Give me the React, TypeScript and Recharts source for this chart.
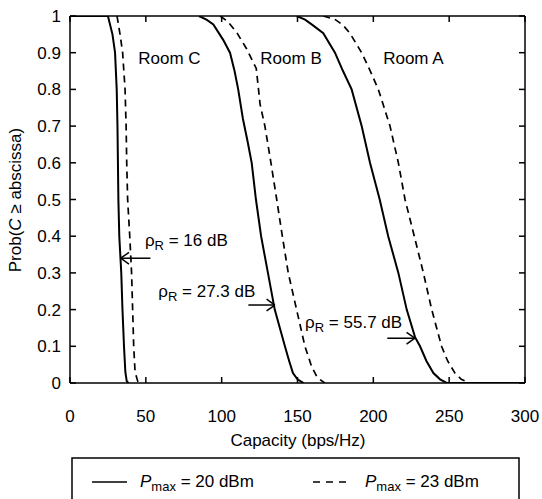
import React from 'react';
import { LineChart, Line, XAxis, YAxis, ReferenceLine, ReferenceDot } from 'recharts';

type Pt = { x: number; p: number };

const roomCSolid: Pt[] = [
  { x: 0, p: 1 }, { x: 25, p: 1 }, { x: 28, p: 0.95 }, { x: 29.7, p: 0.9 }, { x: 30.8, p: 0.8 },
  { x: 31.3, p: 0.7 }, { x: 31.6, p: 0.6 }, { x: 31.9, p: 0.5 }, { x: 32.5, p: 0.4 },
  { x: 33.8, p: 0.3 }, { x: 34.6, p: 0.2 }, { x: 35.6, p: 0.1 }, { x: 36.5, p: 0.03 },
  { x: 37.4, p: 0.005 }, { x: 38.5, p: 0 },
];
const roomCDashed: Pt[] = [
  { x: 31, p: 1 }, { x: 33, p: 0.95 }, { x: 34.7, p: 0.9 }, { x: 36.3, p: 0.8 }, { x: 37, p: 0.7 },
  { x: 37.4, p: 0.6 }, { x: 38, p: 0.5 }, { x: 39.4, p: 0.4 }, { x: 40.6, p: 0.3 },
  { x: 41.3, p: 0.2 }, { x: 42, p: 0.1 }, { x: 42.9, p: 0.03 }, { x: 45, p: 0 },
];
const roomBSolid: Pt[] = [
  { x: 85, p: 1 }, { x: 90, p: 0.99 }, { x: 94.5, p: 0.977 }, { x: 101, p: 0.935 },
  { x: 105.5, p: 0.9 }, { x: 108.5, p: 0.85 }, { x: 110.9, p: 0.8 }, { x: 114, p: 0.72 },
  { x: 117, p: 0.66 }, { x: 119.8, p: 0.6 }, { x: 122.6, p: 0.5 }, { x: 126, p: 0.4 },
  { x: 130.5, p: 0.3 }, { x: 135, p: 0.2 }, { x: 141.7, p: 0.1 }, { x: 144.5, p: 0.06 },
  { x: 147, p: 0.027 }, { x: 150, p: 0.01 }, { x: 154, p: 0 },
];
const roomBDashed: Pt[] = [
  { x: 99, p: 1 }, { x: 104, p: 0.985 }, { x: 110, p: 0.955 }, { x: 116.5, p: 0.91 },
  { x: 122.8, p: 0.857 }, { x: 124.3, p: 0.8 }, { x: 125.3, p: 0.76 }, { x: 128.5, p: 0.7 },
  { x: 132.5, p: 0.6 }, { x: 136.3, p: 0.5 }, { x: 140, p: 0.4 }, { x: 143.9, p: 0.3 },
  { x: 149.4, p: 0.2 }, { x: 154.9, p: 0.1 }, { x: 159.3, p: 0.045 }, { x: 163, p: 0.015 },
  { x: 168, p: 0 },
];
const roomASolid: Pt[] = [
  { x: 149.4, p: 1 }, { x: 155, p: 0.99 }, { x: 160, p: 0.975 }, { x: 167, p: 0.953 },
  { x: 174.7, p: 0.9 }, { x: 180, p: 0.85 }, { x: 185.7, p: 0.8 }, { x: 192.3, p: 0.7 },
  { x: 197.8, p: 0.6 }, { x: 204.2, p: 0.5 }, { x: 209.8, p: 0.4 }, { x: 216.5, p: 0.3 },
  { x: 222, p: 0.2 }, { x: 227.5, p: 0.125 }, { x: 230.8, p: 0.1 }, { x: 235, p: 0.06 },
  { x: 239.6, p: 0.027 }, { x: 244, p: 0.01 }, { x: 248.4, p: 0 }, { x: 300, p: 0 },
];
const roomADashed: Pt[] = [
  { x: 167, p: 1 }, { x: 175, p: 0.99 }, { x: 180, p: 0.975 }, { x: 184.6, p: 0.953 },
  { x: 192.3, p: 0.9 }, { x: 198, p: 0.85 }, { x: 203.3, p: 0.8 }, { x: 211, p: 0.7 },
  { x: 216.5, p: 0.6 }, { x: 220.9, p: 0.5 }, { x: 227, p: 0.4 }, { x: 233, p: 0.3 },
  { x: 238.5, p: 0.2 }, { x: 245, p: 0.1 }, { x: 249, p: 0.06 }, { x: 253.8, p: 0.027 },
  { x: 258, p: 0.01 }, { x: 263.7, p: 0 },
];

const xTicks = [0, 50, 100, 150, 200, 250, 300];
const yTicks = [0, 0.1, 0.2, 0.3, 0.4, 0.5, 0.6, 0.7, 0.8, 0.9, 1];
const yTickLabels = ['0', '0.1', '0.2', '0.3', '0.4', '0.5', '0.6', '0.7', '0.8', '0.9', '1'];

const roomLabels = [
  { text: 'Room C', x: 45, y: 0.885 },
  { text: 'Room B', x: 125.5, y: 0.885 },
  { text: 'Room A', x: 206.5, y: 0.885 },
];

const arrows = [
  { value: '16 dB', tipX: 33.4, tipY: 0.34, tailX: 53, labelX: 49.4, labelY: 0.39 },
  { value: '27.3 dB', tipX: 135.1, tipY: 0.2125, tailX: 117.6, labelX: 58.2, labelY: 0.25 },
  { value: '55.7 dB', tipX: 227.4, tipY: 0.122, tailX: 209.2, labelX: 155, labelY: 0.165 },
];

const FONT = '"Liberation Sans", Arial, Helvetica, sans-serif';
const FS = 17;
const HEAD_DX = 5.5;
const HEAD_DY = 0.016;

const makeTextLabel = (render: (x: number, y: number) => React.ReactNode) => (props: any) => {
  const vb = props.viewBox || {};
  const cx = (vb.x ?? 0) + (vb.width ?? 0) / 2;
  const cy = (vb.y ?? 0) + (vb.height ?? 0) / 2;
  return <g>{render(cx, cy)}</g>;
};

const NoTick = () => <g />;

export default function App() {
  return (
    <div style={{ position: 'fixed', left: 0, top: 0, width: 542, height: 499, overflow: 'hidden', background: '#fff', fontFamily: FONT }}>
      <LineChart width={542} height={499} margin={{ top: 15, right: 16, bottom: 56, left: 0 }}>
        <XAxis
          dataKey="x"
          type="number"
          domain={[0, 300]}
          ticks={xTicks}
          allowDataOverflow
          tickSize={-6}
          tickMargin={33}
          stroke="#000"
          strokeWidth={1.5}
          height={60}
          tick={{ fill: '#000', fontSize: FS, fontFamily: FONT }}
        />
        <XAxis
          xAxisId="top"
          dataKey="x"
          orientation="top"
          type="number"
          domain={[0, 300]}
          ticks={xTicks}
          allowDataOverflow
          tickSize={-6}
          height={1}
          stroke="#000"
          strokeWidth={1.5}
          tick={<NoTick />}
        />
        <YAxis
          type="number"
          domain={[0, 1]}
          ticks={yTicks}
          allowDataOverflow
          tickSize={-6}
          tickMargin={15}
          width={70}
          stroke="#000"
          strokeWidth={1.5}
          tickFormatter={(v: number) => yTickLabels[yTicks.indexOf(v)] ?? String(v)}
          tick={{ fill: '#000', fontSize: FS, fontFamily: FONT }}
        />
        <YAxis
          yAxisId="right"
          orientation="right"
          type="number"
          domain={[0, 1]}
          ticks={yTicks}
          allowDataOverflow
          tickSize={-6}
          width={1}
          stroke="#000"
          strokeWidth={1.5}
          tick={<NoTick />}
        />

        <Line xAxisId="top" yAxisId="right" data={roomCSolid} dataKey="p" stroke="none" dot={false} activeDot={false} legendType="none" isAnimationActive={false} />

        <Line data={roomCSolid} dataKey="p" type="linear" stroke="#000" strokeWidth={2} dot={false} isAnimationActive={false} />
        <Line data={roomCDashed} dataKey="p" type="linear" stroke="#000" strokeWidth={1.7} strokeDasharray="7 5" dot={false} isAnimationActive={false} />
        <Line data={roomBSolid} dataKey="p" type="linear" stroke="#000" strokeWidth={2} dot={false} isAnimationActive={false} />
        <Line data={roomBDashed} dataKey="p" type="linear" stroke="#000" strokeWidth={1.7} strokeDasharray="7 5" dot={false} isAnimationActive={false} />
        <Line data={roomASolid} dataKey="p" type="linear" stroke="#000" strokeWidth={2} dot={false} isAnimationActive={false} />
        <Line data={roomADashed} dataKey="p" type="linear" stroke="#000" strokeWidth={1.7} strokeDasharray="7 5" dot={false} isAnimationActive={false} />

        {arrows.map((a, i) => {
          const dir = a.tailX > a.tipX ? 1 : -1;
          return (
            <React.Fragment key={'arr' + i}>
              <ReferenceLine segment={[{ x: a.tailX, y: a.tipY }, { x: a.tipX, y: a.tipY }]} stroke="#000" strokeWidth={1.5} ifOverflow="visible" />
              <ReferenceLine segment={[{ x: a.tipX, y: a.tipY }, { x: a.tipX + dir * HEAD_DX, y: a.tipY + HEAD_DY }]} stroke="#000" strokeWidth={1.5} ifOverflow="visible" />
              <ReferenceLine segment={[{ x: a.tipX, y: a.tipY }, { x: a.tipX + dir * HEAD_DX, y: a.tipY - HEAD_DY }]} stroke="#000" strokeWidth={1.5} ifOverflow="visible" />
              <ReferenceDot
                x={a.labelX}
                y={a.labelY}
                r={1}
                fill="none"
                stroke="none"
                ifOverflow="visible"
                label={{
                  content: makeTextLabel((cx, cy) => (
                    <text x={cx} y={cy} dominantBaseline="central" fontSize={FS} fontFamily={FONT} fill="#000">
                      <tspan>ρ</tspan>
                      <tspan dy={5} fontSize={13}>R</tspan>
                      <tspan dy={-5}>{' = ' + a.value}</tspan>
                    </text>
                  )),
                }}
              />
            </React.Fragment>
          );
        })}

        {roomLabels.map((r, i) => (
          <ReferenceDot
            key={'room' + i}
            x={r.x}
            y={r.y}
            r={1}
            fill="none"
            stroke="none"
            ifOverflow="visible"
            label={{
              content: makeTextLabel((cx, cy) => (
                <text x={cx} y={cy} dominantBaseline="central" fontSize={FS} fontFamily={FONT} fill="#000">
                  {r.text}
                </text>
              )),
            }}
          />
        ))}
      </LineChart>

      <svg width={542} height={499} style={{ position: 'absolute', left: 0, top: 0, pointerEvents: 'none' }}>
        <text
          x={15}
          y={200}
          transform="rotate(-90 15 200)"
          textAnchor="middle"
          dominantBaseline="central"
          fontSize={FS}
          fontFamily={FONT}
          fill="#000"
        >
          Prob(<tspan fontStyle="italic">C</tspan> ≥ abscissa)
        </text>
        <text x={298} y={440} textAnchor="middle" dominantBaseline="central" fontSize={FS} fontFamily={FONT} fill="#000">
          Capacity (bps/Hz)
        </text>
        <rect x={72} y={458} width={447} height={80} fill="none" stroke="#000" strokeWidth={1.5} />
        <line x1={92} y1={482} x2={127} y2={482} stroke="#000" strokeWidth={1.5} />
        <text x={140} y={481} dominantBaseline="central" fontSize={FS} fontFamily={FONT} fill="#000">
          <tspan fontStyle="italic">P</tspan>
          <tspan dy={5} fontSize={13}>max</tspan>
          <tspan dy={-5}> = 20 dBm</tspan>
        </text>
        <line x1={313} y1={482} x2={347} y2={482} stroke="#000" strokeWidth={1.5} strokeDasharray="7 6" />
        <text x={365} y={481} dominantBaseline="central" fontSize={FS} fontFamily={FONT} fill="#000">
          <tspan fontStyle="italic">P</tspan>
          <tspan dy={5} fontSize={13}>max</tspan>
          <tspan dy={-5}> = 23 dBm</tspan>
        </text>
      </svg>
    </div>
  );
}
